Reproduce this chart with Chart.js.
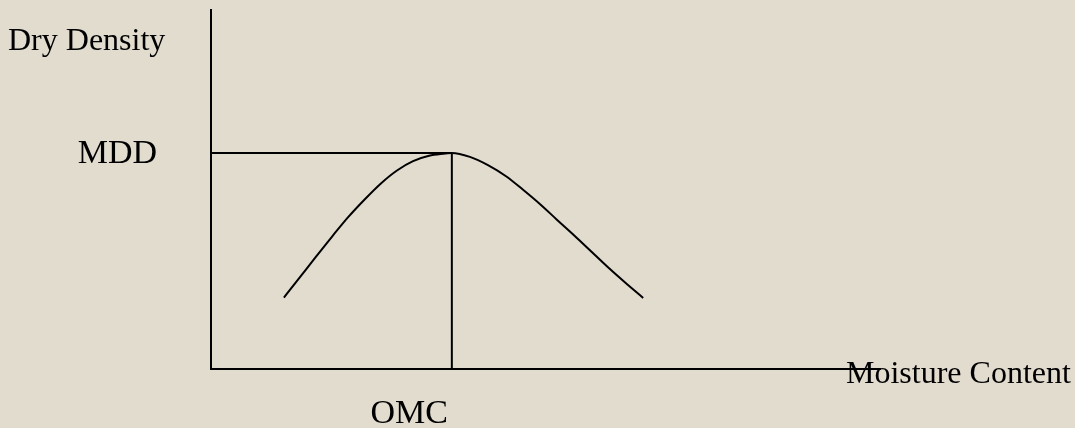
<!DOCTYPE html>
<html>
<head>
<meta charset="utf-8">
<script src="https://cdn.jsdelivr.net/npm/chart.js@4.4.1/dist/chart.umd.min.js"></script>
<style>
  html, body { margin: 0; padding: 0; background: #e2dccf; }
  #wrap { width: 1075px; height: 428px; position: relative; }
</style>
</head>
<body>
<div id="wrap"><canvas id="c"></canvas></div>
<script>
// Compaction curve: dry density against moisture content (relative units)
const moisture = [10.9, 13.3, 15.7, 18.1, 20.5, 23.0, 25.4, 27.8, 30.2, 32.6, 35.0, 36.0,
                  38.7, 41.4, 44.1, 46.6, 49.2, 51.7, 54.3, 56.8, 59.3, 61.9, 64.6];
const density  = [19.9, 25.6, 31.3, 36.9, 42.3, 47.3, 51.7, 55.3, 57.9, 59.4, 60.0, 60.2,
                  59.1, 56.8, 53.7, 50.0, 45.9, 41.6, 37.2, 32.8, 28.4, 24.1, 19.8];

// Optimum moisture content and maximum dry density
const omc = 36.0;
const mdd = 60.2;

// Axis extents
const xRange = [0, 100];
const yRange = [0, 100];

// Text labels
const yTitle = 'Dry Density';
const xTitle = 'Moisture Content';
const mddLabel = 'MDD';
const omcLabel = 'OMC';

const curve = moisture.map((m, i) => ({ x: m, y: density[i] }));
const mddLine = [{ x: xRange[0], y: mdd }, { x: omc, y: mdd }];
const omcLine = [{ x: omc, y: yRange[0] }, { x: omc, y: mdd }];

const TITLE_FONT = '32px "Liberation Serif", "Times New Roman", serif';
const MARK_FONT = '34px "Liberation Serif", "Times New Roman", serif';

const background = {
  id: 'background',
  beforeDraw(chart) {
    const ctx = chart.ctx;
    ctx.save();
    ctx.fillStyle = '#e2dccf';
    ctx.fillRect(0, 0, chart.width, chart.height);
    ctx.restore();
  }
};

const labels = {
  id: 'labels',
  afterDraw(chart) {
    const ctx = chart.ctx;
    const xs = chart.scales.x, ys = chart.scales.y;
    const area = chart.chartArea;
    ctx.save();
    ctx.fillStyle = '#000';
    ctx.textBaseline = 'alphabetic';

    ctx.font = TITLE_FONT;
    ctx.textAlign = 'left';
    ctx.fillText(yTitle, 8, 50);
    ctx.fillText(xTitle, area.right - 34, area.bottom + 14);

    ctx.font = MARK_FONT;
    ctx.textAlign = 'right';
    ctx.fillText(mddLabel, area.left - 54, ys.getPixelForValue(mdd) + 10);
    ctx.fillText(omcLabel, xs.getPixelForValue(omc) - 4, area.bottom + 54);
    ctx.restore();
  }
};

const axisOpts = (range) => ({
  type: 'linear',
  min: range[0],
  max: range[1],
  grid: { display: true, drawOnChartArea: false, drawTicks: false },
  border: { display: true, color: '#000', width: 2 },
  ticks: { display: false }
});

new Chart(document.getElementById('c'), {
  type: 'scatter',
  data: {
    datasets: [
      { data: curve, showLine: true, borderColor: '#000', borderWidth: 2,
        cubicInterpolationMode: 'monotone', pointRadius: 0, fill: false },
      { data: mddLine, showLine: true, borderColor: '#000', borderWidth: 2,
        pointRadius: 0, fill: false },
      { data: omcLine, showLine: true, borderColor: '#000', borderWidth: 2,
        pointRadius: 0, fill: false }
    ]
  },
  options: {
    responsive: true,
    maintainAspectRatio: false,
    animation: false,
    layout: { padding: { left: 211, right: 195, top: 10, bottom: 59 } },
    plugins: { legend: { display: false }, tooltip: { enabled: false } },
    scales: { x: axisOpts(xRange), y: axisOpts(yRange) }
  },
  plugins: [background, labels]
});
</script>
</body>
</html>
